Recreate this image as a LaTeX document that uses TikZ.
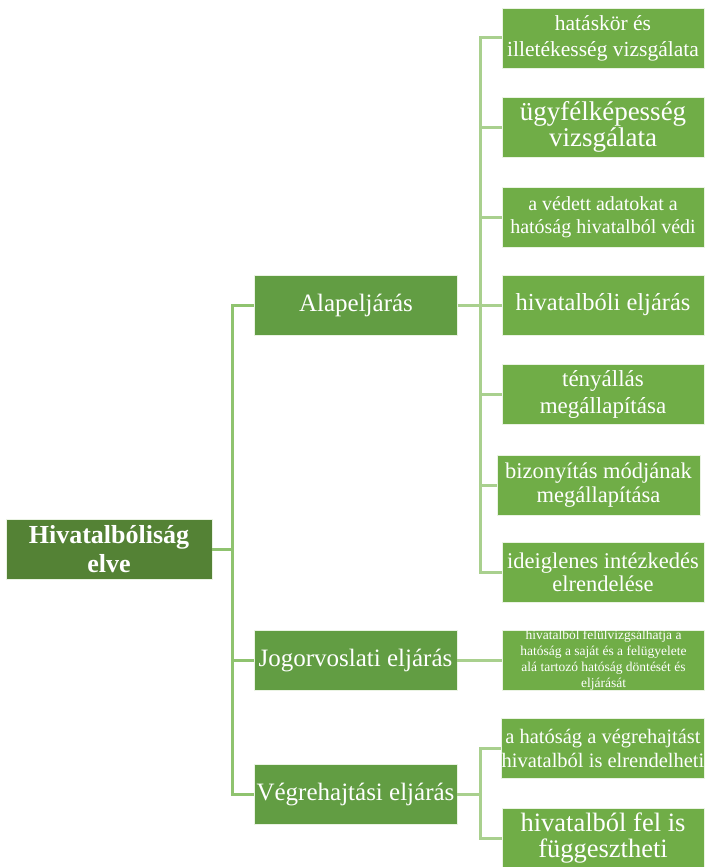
\documentclass[tikz,border=0pt]{standalone}
\usepackage{fontspec}
\setmainfont{Liberation Serif}
\usepackage{tikz}
\usetikzlibrary{positioning}
\definecolor{rootgreen}{HTML}{548235}
\definecolor{midgreen}{HTML}{629D43}
\definecolor{leafgreen}{HTML}{70AD47}
\definecolor{trunkline}{HTML}{8FC36F}
\definecolor{leafline}{HTML}{A9D08E}
\newcommand{\fs}[2]{\fontsize{#1}{#2}\selectfont}

\begin{document}
\begin{tikzpicture}[
    x=1pt, y=-1pt,
    box/.style={rectangle, draw=white!85!leafgreen, line width=0.6pt, text=white,
      align=center, inner sep=0pt, minimum width=203pt, minimum height=60pt},
    rootbox/.style={box, fill=rootgreen, minimum width=206pt, font=\bfseries\fs{26}{29}},
    midbox/.style={box, fill=midgreen, font=\fs{25}{27}},
    leaf/.style={box, fill=leafgreen, minimum width=202pt},
    trunk/.style={draw=trunkline, line width=3pt},
    branch/.style={draw=leafline, line width=3pt},
  ]
    \useasboundingbox (0,0) rectangle (705,867);
    % root
    \node[rootbox] (root) at (109,549) {Hivatalbóliság\\elve};
    % first level
    \node[midbox] (alap) at (356,305) {Alapeljárás};
    \node[midbox] (jog)  at (355.5,660) {Jogorvoslati eljárás};
    \node[midbox] (vegr) at (355.5,794) {Végrehajtási eljárás};
    % leaves of Alapeljárás
    \node[leaf, font=\fs{21.5}{26}] (hat) at (603,38)
          {hatáskör és\\illetékesség vizsgálata};
    \node[leaf, font=\fs{27}{26}] (ugyf) at (603,127)
          {ügyfélképesség\\vizsgálata};
    \node[leaf, font=\fs{20}{23}] (vedett) at (603,217)
          {a védett adatokat a\\hatóság hivatalból védi};
    \node[leaf, font=\fs{24.5}{26}] (hivel) at (603,305) {hivatalbóli eljárás};
    \node[leaf, font=\fs{23}{27}] (teny) at (603,394)
          {tényállás\\megállapítása};
    \node[leaf, font=\fs{22.5}{24}, minimum width=203pt] (biz) at (598.5,485)
          {bizonyítás módjának\\megállapítása};
    \node[leaf, font=\fs{22.5}{23}] (ideig) at (603,572)
          {ideiglenes intézkedés\\elrendelése};
    % leaf of Jogorvoslati eljárás
    \node[leaf, font=\fs{13.5}{16}] (felul) at (603.5,660)
          {hivatalból felülvizgsálhatja a\\hatóság a saját és a felügyelete\\alá tartozó hatóság döntését és\\eljárását};
    % leaves of Végrehajtási eljárás
    \node[leaf, font=\fs{20.5}{24}] (elrend) at (603,748)
          {a hatóság a végrehajtást\\hivatalból is elrendelheti};
    \node[leaf, font=\fs{26.5}{26}] (felf) at (603,838)
          {hivatalból fel is\\függesztheti};
    % bends
    \coordinate (rootbr) at (232,549);
    \coordinate (alapbr) at (480,305);
    \coordinate (vegrbr) at (480,794);
    % root connectors
    \draw[trunk] (root.east) -- (rootbr);
    \draw[trunk] (rootbr) |- (alap.west);
    \draw[trunk] (rootbr) |- (jog.west);
    \draw[trunk] (rootbr) |- (vegr.west);
    % Alapeljárás connectors
    \draw[branch] (alap.east) -- (hivel.west);
    \foreach \n in {hat, ugyf, vedett, teny, biz, ideig}
      \draw[branch] (alapbr) |- (\n.west);
    % Jogorvoslati connector
    \draw[branch] (jog.east) -- (felul.west);
    % Végrehajtási connectors
    \draw[branch] (vegr.east) -- (vegrbr);
    \draw[branch] (vegrbr) |- (elrend.west);
    \draw[branch] (vegrbr) |- (felf.west);
  \end{tikzpicture}
\end{document}
